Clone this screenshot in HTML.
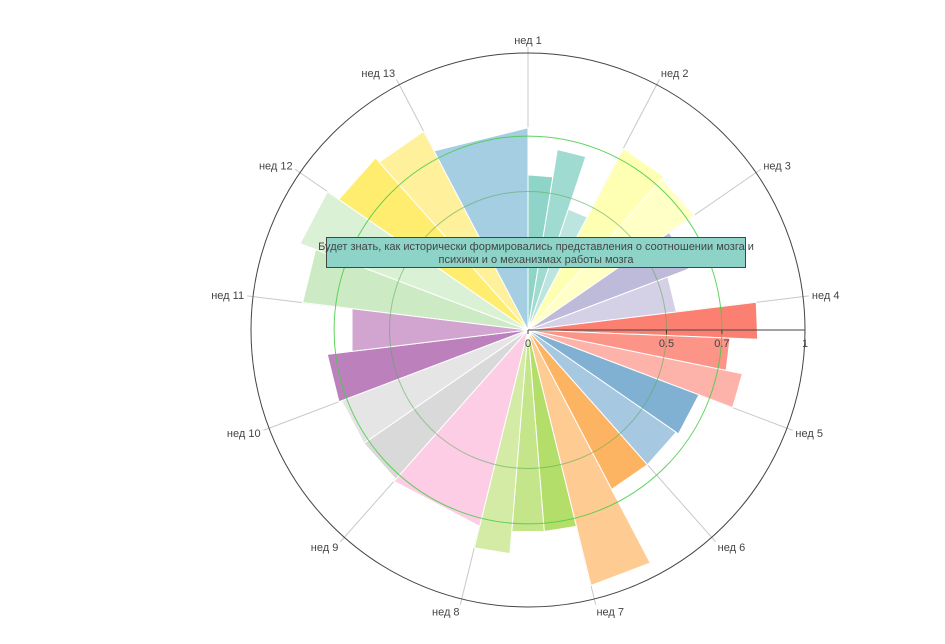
<!DOCTYPE html>
<html><head><meta charset="utf-8"><style>
html,body{margin:0;padding:0;background:#fff;}
svg{display:block;font-family:"Liberation Sans","DejaVu Sans",sans-serif;}
</style></head><body>
<svg id="chart" width="945" height="644" viewBox="0 0 945 644"></svg>
<script>
const categories = ["нед 1","нед 2","нед 3","нед 4","нед 5","нед 6","нед 7","нед 8","нед 9","нед 10","нед 11","нед 12","нед 13"];
const values = [
  [0.56,0.66,0.46],
  [0.74,0.73],
  [0.62,0.54],
  [0.83,0.73,0.79],
  [0.66,0.65],
  [0.65,0.95],
  [0.73,0.73,0.81],
  [0.73],
  [0.72,0.72],
  [0.73,0.64],
  [0.82,0.88],
  [0.83,0.81],
  [0.73]
];
const colors = [
  ["#8fd4c8","#a0dbd1","#bbe5de"],
  ["#ffffb3","#ffffc6"],
  ["#bebada","#d4d1e6"],
  ["#fb8072","#fc9488","#fdb2aa"],
  ["#80b1d3","#a6c8e0"],
  ["#fdb462","#fecb92"],
  ["#b3de69","#c4e58a","#d3eba4"],
  ["#fccde5"],
  ["#d9d9d9","#e5e5e5"],
  ["#bc80bd","#d1a5d0"],
  ["#ccebc5","#dbf1d6"],
  ["#ffed6f","#fff09b"],
  ["#a6cee3"]
];
const radialTicks = [0,0.5,0.7,1];
const radialTickLabels = ["0","0.5","0.7","1"];
const guideCircles = [0.5,0.7];
const tooltipLines = ["Будет знать, как исторически формировались представления о соотношении мозга и","психики и о механизмах работы мозга"];

const NS="http://www.w3.org/2000/svg";
const svg=document.getElementById('chart');
const cx=528, cy=330, R=277;
const rScale=v=>v*R;
const pt=(r,deg)=>[cx+r*Math.cos(deg*Math.PI/180), cy-r*Math.sin(deg*Math.PI/180)];
const step=360/categories.length;
function mk(tag,attrs,parent){const e=document.createElementNS(NS,tag);for(const k in attrs)e.setAttribute(k,attrs[k]);(parent||svg).appendChild(e);return e;}

// angular grid lines + ticks
const grid=mk('g',{});


categories.forEach((c,i)=>{
  const a=90-i*step;
  const p=pt(R,a), q=pt(R+6,a);
  const l=mk('line',{x1:cx,y1:cy,x2:q[0],y2:q[1],stroke:'#c8c8c8','stroke-width':1},grid);
  
  
});
// bars
const bars=mk('g',{});


values.forEach((arr,i)=>{
  const a0=90-i*step, w=step/arr.length;
  arr.forEach((v,j)=>{
    const s=a0-j*w, e=s-w, r=rScale(v);
    const p1=pt(r,s), p2=pt(r,e);
    const poly=mk('polygon',{points:`${cx},${cy} ${p1[0]},${p1[1]} ${p2[0]},${p2[1]}`,fill:colors[i][j],stroke:'#fff','stroke-width':1},bars);
    
    
  });
});
// guide circles
guideCircles.forEach((g,i)=>{
  const c=mk('circle',{cx:cx,cy:cy,r:rScale(g),fill:'none',stroke:i===1?'#44cc44':'#55aa55','stroke-width':1,opacity:i===1?0.85:0.55});
  
  
});
// outer circle
const oc=mk('circle',{cx:cx,cy:cy,r:R,fill:'none',stroke:'#444','stroke-width':1});


// radial axis
const ax=mk('line',{x1:cx,y1:cy,x2:cx+R,y2:cy,stroke:'#444','stroke-width':1});


radialTicks.forEach((t,i)=>{
  const x=cx+rScale(t);
  const tk=mk('line',{x1:x,y1:cy,x2:x,y2:cy+4,stroke:'#444','stroke-width':1});
  
  
  const tx=mk('text',{x:x,y:cy+17,'text-anchor':'middle','font-size':11,fill:'#444'});
  tx.textContent=radialTickLabels[i];
  
  
});
// angular labels
categories.forEach((c,i)=>{
  const a=90-i*step;
  const co=Math.cos(a*Math.PI/180), si=Math.sin(a*Math.PI/180);
  const p=pt(R+9,a);
  const anchor=co>0.15?'start':(co<-0.15?'end':'middle');
  const t=mk('text',{x:p[0],y:p[1]+4-si*4,'text-anchor':anchor,'font-size':11,fill:'#444'});
  t.textContent=c;
  
  
});
// tooltip
const tg=mk('g',{});


mk('rect',{x:326.5,y:237.5,width:419,height:30,fill:'#8dd3c7',stroke:'#444','stroke-width':1},tg);
tooltipLines.forEach((l,i)=>{
  const t=mk('text',{x:536,y:250+i*13,'text-anchor':'middle','font-size':11,fill:'#444'},tg);
  t.textContent=l;
});
</script>
</body></html>
